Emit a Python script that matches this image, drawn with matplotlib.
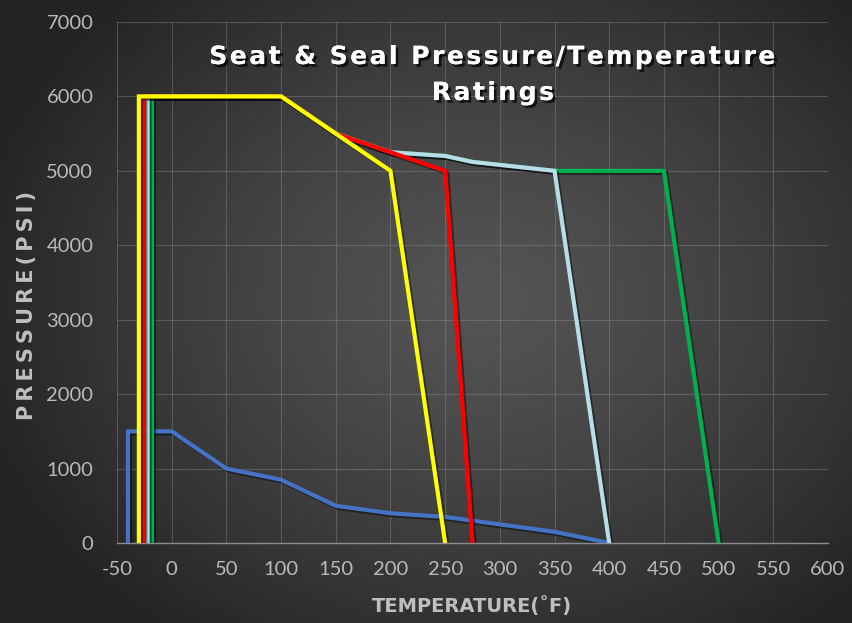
import matplotlib
matplotlib.use("Agg")
import matplotlib.pyplot as plt
import matplotlib.patheffects as pe
import numpy as np

# series data (temperature F, pressure psi)
blue_t = [-40, -40, 0, 50, 100, 150, 200, 250, 350, 400]
blue_p = [0, 1500, 1500, 1000, 850, 500, 400, 350, 150, 0]

green_t = [-18, -18, 100, 150, 200, 250, 275, 350, 450, 500]
green_p = [0, 6000, 6000, 5500, 5250, 5200, 5120, 5000, 5000, 0]

lightblue_t = [-22, -22, 100, 150, 200, 250, 275, 350, 400]
lightblue_p = [0, 6000, 6000, 5500, 5250, 5200, 5120, 5000, 0]

red_t = [-26, -26, 100, 150, 250, 275]
red_p = [0, 6000, 6000, 5500, 5000, 0]

yellow_t = [-30, -30, 100, 200, 250]
yellow_p = [0, 6000, 6000, 5000, 0]

x_ticks = list(range(-50, 601, 50))
y_ticks = list(range(0, 7001, 1000))

plt.rcParams['axes.unicode_minus'] = False


def spaced(s, gap="\u2009"):
    # widen letter spacing a little, like the original font
    return gap.join(s)


fig = plt.figure(figsize=(8.53, 6.23), dpi=100)

# radial gradient background
bg = fig.add_axes([0, 0, 1, 1], zorder=-10)
yy, xx = np.mgrid[0:623, 0:853]
r = np.sqrt(((xx - 480) / 520.0) ** 2 + ((yy - 300) / 420.0) ** 2)
r = np.clip(r, 0, 1)
c_in, c_out = 0.33, 0.14
shade = c_in + (c_out - c_in) * r ** 1.3
bg.imshow(np.dstack([shade] * 3), aspect="auto", interpolation="bilinear")
bg.axis("off")

ax = fig.add_axes([117 / 853, 80 / 623, 711 / 853, 521 / 623])
ax.set_facecolor("none")

shadow = [pe.SimpleLineShadow(offset=(1.5, -1.5), shadow_color="black", alpha=0.45), pe.Normal()]
ax.plot(blue_t, blue_p, color="#4472c4", lw=3, path_effects=shadow, solid_joinstyle="miter", zorder=3)
ax.plot(green_t, green_p, color="#00b050", lw=3, path_effects=shadow, solid_joinstyle="miter", zorder=4)
ax.plot(lightblue_t, lightblue_p, color="#b7dde8", lw=3, path_effects=shadow, solid_joinstyle="miter", zorder=5)
ax.plot(red_t, red_p, color="#ff0000", lw=3, path_effects=shadow, solid_joinstyle="miter", zorder=6)
ax.plot(yellow_t, yellow_p, color="#ffff00", lw=3, path_effects=shadow, solid_joinstyle="miter", zorder=7)

ax.set_xlim(-50, 600)
ax.set_ylim(0, 7000)
ax.set_xticks(x_ticks)
ax.set_yticks(y_ticks)
ax.grid(True, color="#9a9a9a", lw=0.8, alpha=0.35)
ax.set_axisbelow(True)
for s in ["top", "right", "left"]:
    ax.spines[s].set_visible(False)
ax.spines["bottom"].set_color("#8c8c8c")
ax.spines["bottom"].set_linewidth(1)
ax.tick_params(length=0, colors="#bababa", labelsize=14.5)
ax.tick_params(axis="y", pad=17)
ax.tick_params(axis="x", pad=13)
for lab in ax.get_xticklabels() + ax.get_yticklabels():
    lab.set_family("Lato")
    lab.set_weight("normal")

fig.text(27 / 853, 1 - 305 / 623, spaced("PRESSURE(PSI)"), rotation=90, ha="center", va="center",
         color="#bfbfbf", fontsize=15, fontweight="bold")
fig.text(472 / 853, 1 - 606 / 623, "TEMPERATURE(˚F)", ha="center", va="center",
         color="#bfbfbf", fontsize=14, fontweight="bold")

title_fx = [pe.withSimplePatchShadow(offset=(2, -2), shadow_rgbFace="black", alpha=0.7), pe.Normal()]
fig.text(493 / 853, 1 - 57 / 623, spaced("Seat & Seal Pressure/Temperature", "\u200a"), ha="center",
         va="center", color="white", fontsize=18, fontweight="bold", path_effects=title_fx)
fig.text(493 / 853, 1 - 93 / 623, spaced("Ratings", "\u200a"), ha="center", va="center",
         color="white", fontsize=18, fontweight="bold", path_effects=title_fx)

fig.savefig("out.png", dpi=100)
